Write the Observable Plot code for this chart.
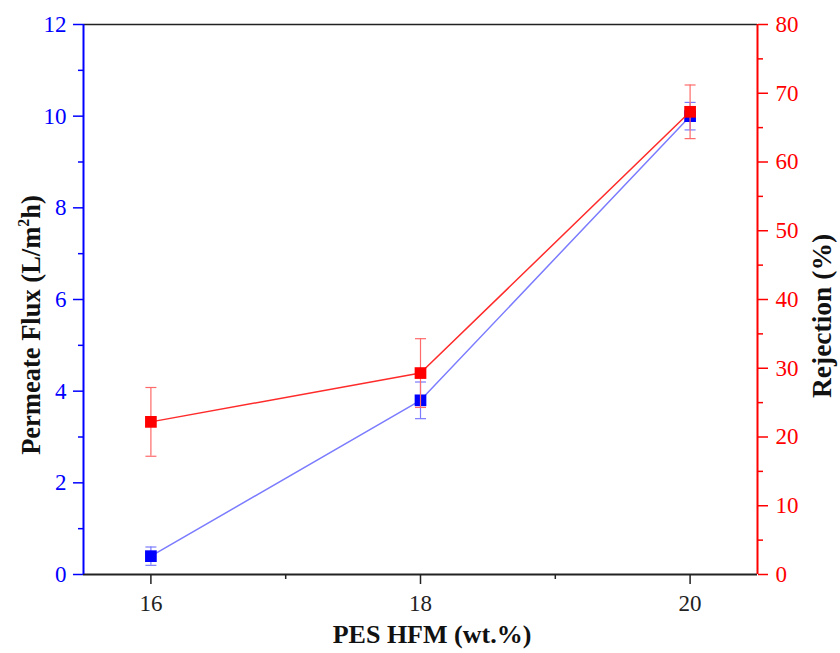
<!DOCTYPE html>
<html><head><meta charset="utf-8">
<script src="https://cdn.jsdelivr.net/npm/d3@7"></script>
<script src="https://cdn.jsdelivr.net/npm/@observablehq/plot@0.6"></script>
<style>body{margin:0;background:#fff;}</style>
</head><body><div id="chart"></div>
<script>
const concentration = [16, 18, 20];
const flux = [0.4, 3.8, 10.0];
const fluxErr = [0.2, 0.4, 0.3];
const rejection = [22.2, 29.3, 67.3];
const rejectionErr = [5.0, 5.0, 3.9];
const xTicks = [16, 18, 20];
const xMinorTicks = [17, 19];
const fluxTicks = [0, 2, 4, 6, 8, 10, 12];
const fluxMinorTicks = [1, 3, 5, 7, 9, 11];
const rejectionTicks = [0, 10, 20, 30, 40, 50, 60, 70, 80];
const rejectionMinorTicks = [5, 15, 25, 35, 45, 55, 65, 75];
const xDomain = [15.5, 20.5];
const fluxDomain = [0, 12];
const rejectionDomain = [0, 80];

const BLUE = "#0000ff", RED = "#ff0000", DARK = "#222";
const toLeft = v => v * fluxDomain[1] / rejectionDomain[1];
const toRight = v => v * rejectionDomain[1] / fluxDomain[1];

const fluxData = concentration.map((c, i) => ({c, v: flux[i], e: fluxErr[i]}));
const rejData = concentration.map((c, i) => ({c, v: rejection[i], e: rejectionErr[i]}));

const cap = {draw(ctx) { ctx.moveTo(-5.5, 0); ctx.lineTo(5.5, 0); }};
const font = "Liberation Serif, serif";
const noText = () => "";
const intFmt = d => String(Math.round(d));

const chart = Plot.plot({
  width: 840, height: 653,
  marginLeft: 83, marginRight: 83, marginTop: 24, marginBottom: 79,
  style: {fontFamily: font, background: "#fff", overflow: "visible"},
  x: {domain: xDomain},
  y: {domain: fluxDomain},
  marks: [
    Plot.ruleY([fluxDomain[0]], {stroke: DARK, strokeWidth: 2}),
    Plot.ruleY([fluxDomain[1]], {stroke: DARK, strokeWidth: 1.5}),
    // x axis
    Plot.axisX(xTicks, {anchor: "bottom", tickSize: 10, tickPadding: 10, color: DARK, stroke: DARK, fill: DARK, strokeWidth: 1.5, fontSize: 23, label: null, tickFormat: intFmt}),
    Plot.axisX(xMinorTicks, {anchor: "bottom", tickSize: 5, tickFormat: noText, color: DARK, stroke: DARK, strokeWidth: 1.5, label: null}),
    // left axis
    Plot.axisY(fluxTicks, {anchor: "left", tickSize: 10, tickPadding: 7, color: BLUE, stroke: BLUE, fill: BLUE, strokeWidth: 1.5, fontSize: 23, label: null, tickFormat: intFmt}),
    Plot.axisY(fluxMinorTicks, {anchor: "left", tickSize: 5, tickFormat: noText, color: BLUE, stroke: BLUE, strokeWidth: 1.5, label: null}),
    // right axis
    Plot.axisY(rejectionTicks.map(toLeft), {anchor: "right", tickSize: 10, tickPadding: 8, color: RED, stroke: RED, fill: RED, strokeWidth: 1.5, fontSize: 23, label: null, tickFormat: d => intFmt(toRight(d))}),
    Plot.axisY(rejectionMinorTicks.map(toLeft), {anchor: "right", tickSize: 5, tickFormat: noText, color: RED, stroke: RED, strokeWidth: 1.5, label: null}),
    Plot.ruleX([xDomain[0]], {stroke: BLUE, strokeWidth: 2}),
    Plot.ruleX([xDomain[1]], {stroke: RED, strokeWidth: 2}),
    // flux series
    Plot.line(fluxData, {x: "c", y: "v", stroke: "#7b7bff", strokeWidth: 1.5}),
    Plot.ruleX(fluxData, {x: "c", y1: d => d.v - d.e, y2: d => d.v + d.e, stroke: "#7b7bff", strokeWidth: 1.2}),
    Plot.dot(fluxData, {x: "c", y: d => d.v - d.e, symbol: cap, stroke: "#7b7bff", strokeWidth: 1.2, fill: "none"}),
    Plot.dot(fluxData, {x: "c", y: d => d.v + d.e, symbol: cap, stroke: "#7b7bff", strokeWidth: 1.2, fill: "none"}),
    Plot.dot(fluxData, {x: "c", y: "v", symbol: "square", r: 6.6, fill: BLUE, stroke: "none"}),
    // rejection series
    Plot.line(rejData, {x: "c", y: d => toLeft(d.v), stroke: "#ff2a2a", strokeWidth: 1.5}),
    Plot.ruleX(rejData, {x: "c", y1: d => toLeft(d.v - d.e), y2: d => toLeft(d.v + d.e), stroke: "#ff6a6a", strokeWidth: 1.2}),
    Plot.dot(rejData, {x: "c", y: d => toLeft(d.v - d.e), symbol: cap, stroke: "#ff6a6a", strokeWidth: 1.2, fill: "none"}),
    Plot.dot(rejData, {x: "c", y: d => toLeft(d.v + d.e), symbol: cap, stroke: "#ff6a6a", strokeWidth: 1.2, fill: "none"}),
    Plot.dot(rejData, {x: "c", y: d => toLeft(d.v), symbol: "square", r: 6.6, fill: RED, stroke: "none"})
  ]
});

const svg = d3.select(chart);
svg.selectAll("text").style("font-family", font).style("font-variant", "normal");

const addTitle = (x, y, rot, size, content) => {
  const t = svg.append("text")
    .attr("transform", `translate(${x},${y}) rotate(${rot})`)
    .attr("text-anchor", "middle")
    .attr("dominant-baseline", "middle")
    .style("font-family", font).style("font-weight", "bold").style("font-size", size + "px")
    .attr("fill", "#111");
  content(t);
};
addTitle(432, 637, 0, 26, t => t.text("PES HFM (wt.%)"));
addTitle(34, 325, -90, 26.5, t => {
  t.append("tspan").text("Permeate Flux (L/m");
  t.append("tspan").attr("baseline-shift", "super").style("font-size", "16px").text("2");
  t.append("tspan").text("h)");
});
addTitle(825, 316, -90, 27.5, t => t.text("Rejection (%)"));

document.getElementById("chart").appendChild(chart);
</script>
</body></html>
